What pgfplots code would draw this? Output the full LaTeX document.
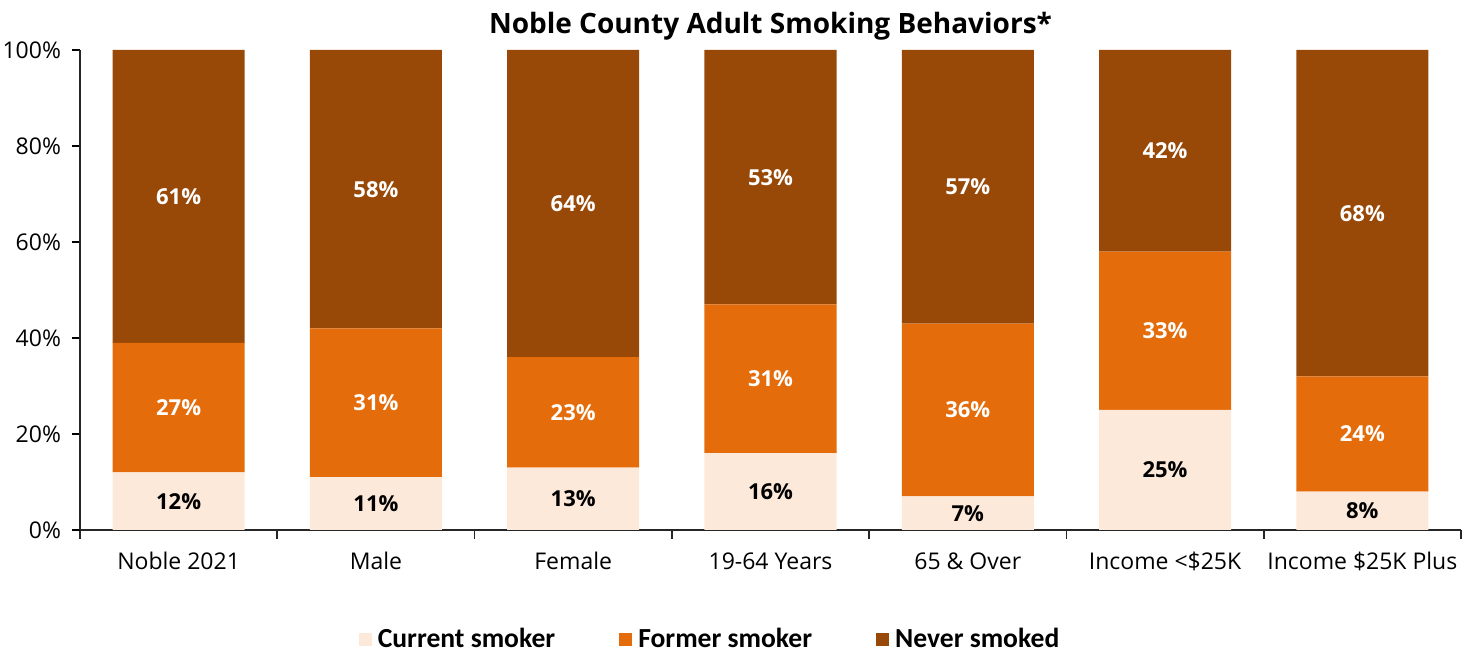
\documentclass[border=0pt]{standalone}
\usepackage{fontspec}
\setmainfont{Open Sans}
\newfontfamily\legfont{Carlito}
\usepackage{pgfplots}
\usepackage{pgfplotstable}
\pgfplotsset{compat=1.18}
\definecolor{curcol}{HTML}{FDE9D9}
\definecolor{formcol}{HTML}{E46C0A}
\definecolor{nevcol}{HTML}{984807}
\pgfplotstableread{
x cur former never
0 12 27 61
1 11 31 58
2 13 23 64
3 16 31 53
4 7 36 57
5 25 33 42
6 8 24 68
}\data
\begin{document}
\begin{tikzpicture}
\path[use as bounding box] (-40pt,-61pt) rectangle (696.5pt,265pt);
\begin{axis}[
  at={(0pt,0pt)}, anchor=south west,
  scale only axis, width=690.5pt, height=240pt,
  ybar stacked, bar width=66pt,
  xmin=-0.5, xmax=6.5, ymin=0, ymax=100,
  axis lines=left,
  axis line style={black!85, line width=0.8pt, -},
  xtick={0,...,6},
  xticklabels={Noble 2021, Male, Female, 19-64 Years, 65 \& Over, Income <\$25K, Income \$25K Plus},
  major x tick style={draw=none},
  minor xtick={-0.5,0.5,...,6.5},
  minor x tick style={black!85, line width=0.8pt},
  minor tick length=4.5pt,
  major tick length=4pt,
  tick align=outside,
  ytick={0,20,...,100},
  yticklabel={\pgfmathprintnumber{\tick}\%},
  ytick style={black, line width=0.8pt},
  /pgf/number format/assume math mode=true,
  tick label style={font=\fontsize{11.5}{13}\selectfont},
  xticklabel style={anchor=base, yshift=-16pt},
  xticklabel shift=0pt,
  yticklabel style={xshift=-2pt},
  title={\bfseries Noble County Adult Smoking Behaviors*},
  title style={font=\fontsize{14}{16}\selectfont, at={(0.5,1)}, anchor=base, yshift=2pt},
  legend style={at={(0.4577,-0.228)}, anchor=center, draw=none, fill=none,
    legend columns=3, font=\legfont\bfseries\fontsize{13.8}{15}\selectfont,
    /tikz/every even column/.append style={column sep=29pt},
    nodes={inner xsep=3pt}},
  nodes near coords={\pgfplotspointmeta\%},
  point meta=explicit symbolic,
]
\addplot[fill=curcol, draw=none,
  legend image code/.code={\fill[curcol] (0pt,-3.2pt) rectangle (6.5pt,3.3pt);},
  every node near coord/.append style={anchor=center, text=black, font=\bfseries\fontsize{11}{13}\selectfont}]
  table[x=x, y=cur, meta=cur] {\data};
\addplot[fill=formcol, draw=none,
  legend image code/.code={\fill[formcol] (0pt,-3.2pt) rectangle (6.5pt,3.3pt);},
  every node near coord/.append style={anchor=center, text=white, font=\bfseries\fontsize{11}{13}\selectfont}]
  table[x=x, y=former, meta=former] {\data};
\addplot[fill=nevcol, draw=none,
  legend image code/.code={\fill[nevcol] (0pt,-3.2pt) rectangle (6.5pt,3.3pt);},
  every node near coord/.append style={anchor=center, text=white, font=\bfseries\fontsize{11}{13}\selectfont}]
  table[x=x, y=never, meta=never] {\data};
\legend{Current smoker, Former smoker, Never smoked}
\end{axis}
\end{tikzpicture}
\end{document}
